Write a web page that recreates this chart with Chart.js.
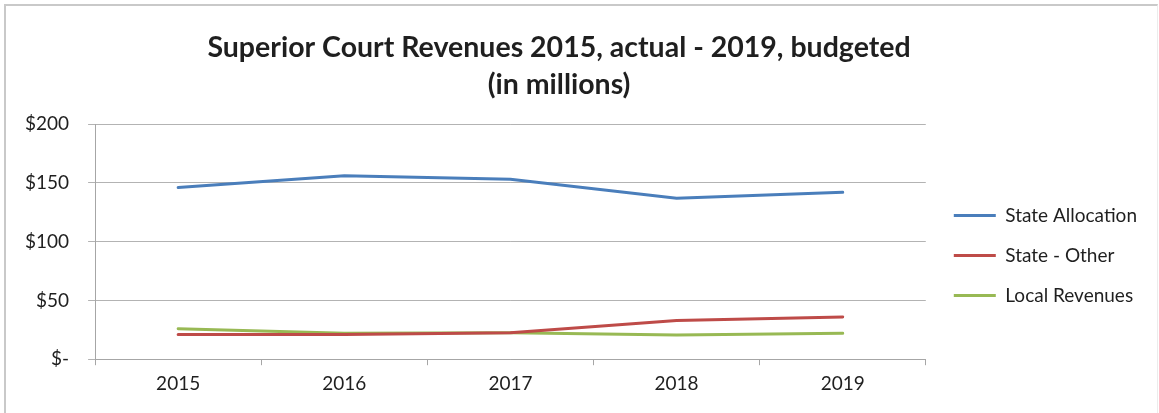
<!DOCTYPE html>
<html>
<head>
<meta charset="utf-8">
<script src="https://cdn.jsdelivr.net/npm/chart.js@4.4.1/dist/chart.umd.min.js"></script>
<style>
  html, body { margin: 0; padding: 0; background: #fff; }
  #wrap { position: absolute; left: 0; top: 0; width: 1159px; height: 413px; }
  #frame {
    position: absolute; left: 4px; top: 4px; right: 1px; bottom: -4px;
    border-top: 2px solid #c9c9c9; border-left: 2px solid #c9c9c9; border-right: 1px solid #ececec;
    pointer-events: none;
  }
</style>
</head>
<body>
<div id="wrap">
  <canvas id="revenue-chart" width="1159" height="413"></canvas>
  <div id="frame"></div>
</div>
<script>
// Superior Court revenues, $ millions
const years = ['2015', '2016', '2017', '2018', '2019'];
const stateAllocation = [146, 156, 153, 137, 142];
const stateOther = [21, 21, 22.5, 33, 36];
const localRevenues = [26, 22, 22.5, 20.5, 22];
const yTicks = [0, 50, 100, 150, 200];

const FONT = 'Lato, "Open Sans", sans-serif';
const TEXT = '#1f1f1f';

function series(label, data, color) {
  return { label, data, borderColor: color, backgroundColor: color, borderWidth: 3 };
}

// nudge title and legend after layout: title sits over the plot, legend a bit right of the gap
const nudgeBlocks = {
  id: 'nudgeBlocks',
  afterLayout(chart) {
    const t = chart.titleBlock;
    if (t) { t.left -= 14; t.right -= 14; }
    const l = chart.legend;
    if (l) { l.left += 7; l.right += 7; }
  }
};

new Chart(document.getElementById('revenue-chart'), {
  type: 'line',
  data: {
    labels: years,
    datasets: [
      series('State Allocation', stateAllocation, '#4a7ebb'),
      series('State - Other', stateOther, '#be4b48'),
      series('Local Revenues', localRevenues, '#98b954')
    ]
  },
  plugins: [nudgeBlocks],
  options: {
    responsive: false,
    animation: false,
    devicePixelRatio: 1,
    layout: {
      padding: { left: 6, right: 19, top: 29, bottom: 11 }
    },
    elements: {
      line: { tension: 0, borderCapStyle: 'round' },
      point: { radius: 0, hoverRadius: 0 }
    },
    plugins: {
      title: {
        display: true,
        text: ['Superior Court Revenues 2015, actual - 2019, budgeted', '(in millions)'],
        color: TEXT,
        font: { family: FONT, size: 28.5, weight: 'bold', lineHeight: 1.3 },
        padding: { top: 0, bottom: 21 }
      },
      legend: {
        position: 'right',
        align: 'start',
        // empty title only pushes the items down
        title: { display: true, text: '', font: { size: 12, lineHeight: 1 }, padding: 72 },
        labels: {
          usePointStyle: true,
          pointStyle: 'line',
          pointStyleWidth: 42,
          color: TEXT,
          font: { family: FONT, size: 19 },
          padding: 21
        }
      },
      tooltip: { enabled: false }
    },
    scales: {
      x: {
        offset: true,
        grid: {
          offset: true,
          drawOnChartArea: false,
          tickLength: 6,
          color: '#a6a6a6'
        },
        border: { color: '#a6a6a6', width: 1 },
        ticks: {
          color: TEXT,
          font: { family: FONT, size: 19 },
          padding: 7
        }
      },
      y: {
        min: 0,
        max: 200,
        afterBuildTicks: axis => { axis.ticks = yTicks.map(v => ({ value: v })); },
        grid: {
          color: '#b3b3b3',
          tickLength: 7
        },
        border: { color: '#a6a6a6', width: 1 },
        ticks: {
          color: TEXT,
          font: { family: FONT, size: 19 },
          padding: 19,
          callback: v => v === 0 ? '$-' : '$' + v
        }
      }
    }
  }
});
</script>
</body>
</html>
